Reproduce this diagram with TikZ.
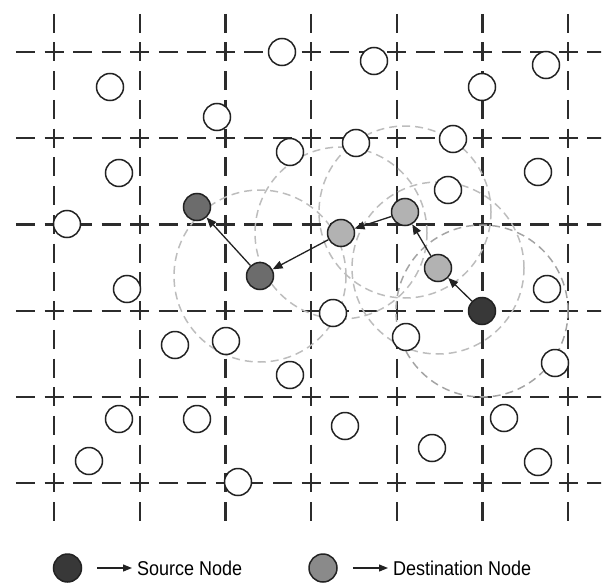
\documentclass[tikz,border=0pt]{standalone}
\usepackage{fontspec}
\setmainfont{Liberation Sans}
\newfontfamily\legendfont[FakeStretch=0.9]{Liberation Sans}
\usetikzlibrary{arrows.meta,backgrounds}

\definecolor{gridc}{HTML}{2C2C2C}
\definecolor{outline}{HTML}{222222}
\definecolor{rangec}{HTML}{BDBDBD}
\definecolor{rangesrc}{HTML}{A4A4A4}
\definecolor{srcfill}{HTML}{383838}
\definecolor{relayfill}{HTML}{B2B2B2}
\definecolor{farfill}{HTML}{6C6C6C}
\definecolor{legdst}{HTML}{8A8A8A}

\begin{document}
\begin{tikzpicture}[x=1pt,y=-1pt,
  peer/.style={circle,draw=outline,line width=1.5pt,fill=white,minimum size=27pt,inner sep=0pt},
  source/.style={peer,fill=srcfill},
  relay/.style={peer,fill=relayfill},
  farrelay/.style={peer,fill=farfill},
  gridline/.style={draw=gridc,line width=2.2pt},
  txrange/.style={draw=rangec,line width=1.5pt,dash pattern=on 8pt off 5pt},
  hop/.style={draw=outline,line width=1.3pt,-{Triangle[length=10pt,width=8pt]}},
  keyarrow/.style={draw=outline,line width=1.2pt,-{Triangle[length=9pt,width=7pt]}},
  legtext/.style={anchor=west,inner sep=0pt,font=\legendfont\fontsize{20}{24}\selectfont}]
\useasboundingbox (0,0) rectangle (612,583);

% ordinary sensor nodes
\node[peer] (n1)  at (282,52)  {};
\node[peer] (n2)  at (374,61)  {};
\node[peer] (n3)  at (546,65)  {};
\node[peer] (n4)  at (110,87)  {};
\node[peer] (n5)  at (482,87)  {};
\node[peer] (n6)  at (217,117) {};
\node[peer] (n7)  at (290,152) {};
\node[peer] (n8)  at (356,143) {};
\node[peer] (n9)  at (453,139) {};
\node[peer] (n10) at (119,173) {};
\node[peer] (n11) at (538,172) {};
\node[peer] (n12) at (448,190) {};
\node[peer] (n13) at (67,224)  {};
\node[peer] (n14) at (127,289) {};
\node[peer] (n15) at (547,289) {};
\node[peer] (n16) at (333,313) {};
\node[peer] (n17) at (406,337) {};
\node[peer] (n18) at (226,341) {};
\node[peer] (n19) at (175,345) {};
\node[peer] (n20) at (290,375) {};
\node[peer] (n21) at (555,363) {};
\node[peer] (n22) at (119,419) {};
\node[peer] (n23) at (197,419) {};
\node[peer] (n24) at (345,426) {};
\node[peer] (n25) at (504,418) {};
\node[peer] (n26) at (432,448) {};
\node[peer] (n27) at (89,461)  {};
\node[peer] (n28) at (538,462) {};
\node[peer] (n29) at (238,482) {};

% route from the source to the destination
\node[source]   (src) at (482,311) {};
\node[relay]    (r1)  at (438,268) {};
\node[relay]    (r2)  at (405,212) {};
\node[relay]    (r3)  at (341,233) {};
\node[farrelay] (r4)  at (260,276) {};
\node[farrelay] (dst) at (197,207) {};

\draw[hop] (src) -- (r1);
\draw[hop] (r1) -- (r2);
\draw[hop] (r2) -- (r3);
\draw[hop] (r3) -- (r4);
\draw[hop] (r4) -- (dst);

\begin{pgfonlayer}{background}
  % dashed grid
  \begin{scope}
    \clip (0,10) rectangle (612,520);
    \foreach \k in {0,...,6}
      \draw[gridline,dash pattern=on 19pt off 9.73pt]
        ({54+85.7*\k},-14.96) -- ({54+85.7*\k},540);
  \end{scope}
  \begin{scope}
    \clip (11,0) rectangle (601,583);
    \foreach \k in {0,...,5}
      \draw[gridline,dash pattern=on 19pt off 9.57pt]
        (-12.64,{52+86.2*\k}) -- (620,{52+86.2*\k});
  \end{scope}
  % transmission ranges
  \draw[txrange,draw=rangesrc] (src.center) circle[radius=86pt];
  \draw[txrange] (r1.center) circle[radius=86pt];
  \draw[txrange] (r2.center) circle[radius=86pt];
  \draw[txrange] (r3.center) circle[radius=86pt];
  \draw[txrange] (r4.center) circle[radius=86pt];
\end{pgfonlayer}

% legend
\node[source,minimum size=28pt] (lsrc) at (67.5,568) {};
\node[legtext] (lsrct) at (137,568) {Source Node};
\draw[keyarrow] ([xshift=15pt]lsrc.east) -- ([xshift=-5pt]lsrct.west);
\node[peer,fill=legdst,minimum size=28pt] (ldst) at (323,568) {};
\node[legtext] (ldstt) at (393,568) {Destination Node};
\draw[keyarrow] ([xshift=15pt]ldst.east) -- ([xshift=-5pt]ldstt.west);
\end{tikzpicture}
\end{document}
